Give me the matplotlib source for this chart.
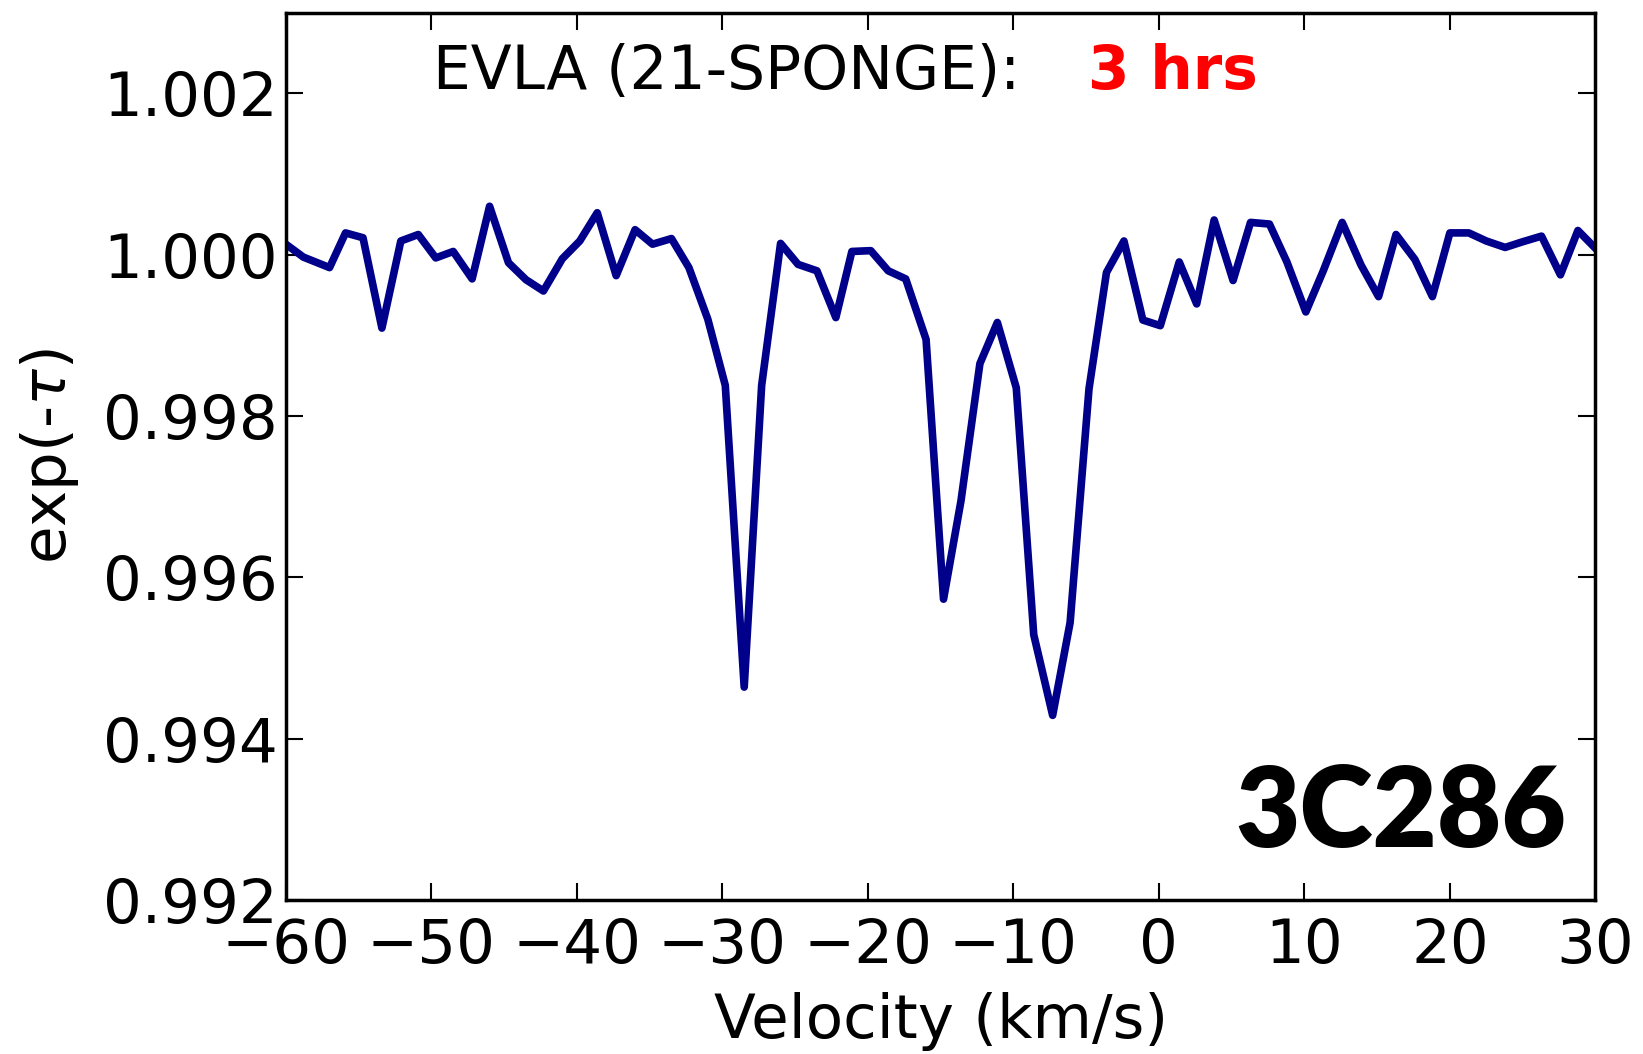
import numpy as np
import matplotlib
matplotlib.use('Agg')
import matplotlib.pyplot as plt

# velocity channels (km/s) and absorption profile
velocity = [-60.0, -58.8, -57.0, -55.9, -54.7, -53.4, -52.1, -50.9, -49.7, -48.5,
            -47.2, -46.0, -44.7, -43.5, -42.3, -41.0, -39.8, -38.6, -37.3, -36.0,
            -34.8, -33.5, -32.3, -31.0, -29.8, -28.5, -27.3, -26.0, -24.8, -23.5,
            -22.2, -21.1, -19.8, -18.6, -17.4, -16.0, -14.8, -13.6, -12.3, -11.1,
            -9.8, -8.6, -7.3, -6.1, -4.8, -3.6, -2.4, -1.1, 0.1, 1.4,
            2.6, 3.8, 5.1, 6.3, 7.6, 8.8, 10.1, 11.3, 12.6, 13.9,
            15.1, 16.3, 17.6, 18.8, 20.0, 21.3, 22.5, 23.8, 25.0, 26.3,
            27.6, 28.8, 30.0]
exp_tau = [1.00013, 0.99997, 0.99984, 1.00027, 1.00021, 0.99909, 1.00017, 1.00025, 0.99996, 1.00004,
           0.99970, 1.00060, 0.99990, 0.99969, 0.99955, 0.99995, 1.00017, 1.00052, 0.99974, 1.00031,
           1.00013, 1.00020, 0.99984, 0.99920, 0.99838, 0.99464, 0.99838, 1.00014, 0.99988, 0.99980,
           0.99922, 1.00004, 1.00005, 0.99980, 0.99970, 0.99895, 0.99573, 0.99695, 0.99865, 0.99916,
           0.99835, 0.99529, 0.99429, 0.99544, 0.99834, 0.99978, 1.00017, 0.99919, 0.99912, 0.99991,
           0.99939, 1.00043, 0.99968, 1.00040, 1.00038, 0.99991, 0.99929, 0.99980, 1.00040, 0.99987,
           0.99948, 1.00025, 0.99994, 0.99948, 1.00027, 1.00027, 1.00017, 1.00009, 1.00016, 1.00023,
           0.99975, 1.00030, 1.00008]

x_ticks = [-60, -50, -40, -30, -20, -10, 0, 10, 20, 30]
y_ticks = [0.992, 0.994, 0.996, 0.998, 1.000, 1.002]

fig = plt.figure(figsize=(16.43, 10.54), dpi=100)
ax = fig.add_axes([0.174, 0.146, 0.797, 0.842])

ax.plot(velocity, exp_tau, color='#00008B', linewidth=5.5)

ax.set_xlim(-60, 30)
ax.set_ylim(0.992, 1.003)
ax.set_xticks(x_ticks)
ax.set_yticks(y_ticks)
ax.set_yticklabels([f'{t:.3f}' for t in y_ticks])
ax.tick_params(direction='in', length=12, width=1.5, labelsize=44,
               top=True, right=True)
ax.tick_params(axis='x', pad=12)
ax.tick_params(axis='y', pad=6)
for sp in ax.spines.values():
    sp.set_linewidth(2.5)

ax.set_xlabel('Velocity (km/s)', fontsize=44, labelpad=12)
ax.set_ylabel(r'exp(-$\tau$)', fontsize=44, labelpad=16)

ax.text(0.112, 0.932, 'EVLA (21-SPONGE):', transform=ax.transAxes,
        fontsize=43, va='center', ha='left')
ax.text(0.6125, 0.932, '3 hrs', transform=ax.transAxes, fontsize=43,
        color='red', fontweight='bold', va='center', ha='left')
ax.text(0.978, 0.06, '3C286', transform=ax.transAxes, fontsize=80,
        family='Lato', fontweight='heavy', va='baseline', ha='right')

fig.savefig('out.png', dpi=100)
